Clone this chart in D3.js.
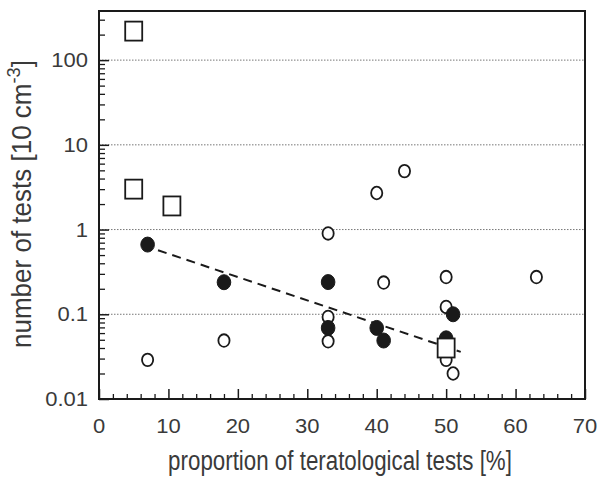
<!DOCTYPE html>
<html><head><meta charset="utf-8">
<script src="https://cdn.jsdelivr.net/npm/d3@7"></script>
<style>body{margin:0;background:#fff}svg{display:block}</style>
</head><body>
<svg id="c" width="599" height="477"></svg>
<script>
// data
const openX = [40, 44, 33, 41, 50, 63, 50, 33, 33, 50, 51, 7, 18];
const openY = [2.7, 4.9, 0.9, 0.237, 0.275, 0.275, 0.122, 0.093, 0.048, 0.029, 0.02, 0.029, 0.049];
const filledX = [7, 18, 33, 33, 40, 41, 51, 50];
const filledY = [0.665, 0.239, 0.24, 0.069, 0.069, 0.049, 0.1, 0.052];
const squareX = [5, 5, 10.5, 50];
const squareY = [220, 3, 1.9, 0.04];
const fitX = [8.5, 52.1];
const fitY = [0.57, 0.036];
const xTicks = [0, 10, 20, 30, 40, 50, 60, 70];
const yTicks = [0.01, 0.1, 1, 10, 100];
const yTickLabels = ["0.01", "0.1", "1", "10", "100"];
const gridVals = [0.1, 1, 10, 100];

const svg = d3.select("#c");
const L = 99, R = 585, T = 11, B = 399;
const x = d3.scaleLinear().domain([0, 70]).range([L, R]);
const y = d3.scaleLog().domain([0.01, 380]).range([B, T]);
const SX = 1.1;
const ink = "#1a1a1a", txt = "#3a3a3a";
const FF = "Liberation Sans, Arial, sans-serif";

// grid
svg.append("g").selectAll("line").data(gridVals).join("line")
  .attr("x1", L).attr("x2", R).attr("y1", d => y(d)).attr("y2", d => y(d))
  .attr("stroke", "#777").attr("stroke-width", 1).attr("stroke-dasharray", "1.5,1.5");

// minor ticks
const xMinor = d3.range(0, 70, 2).filter(v => v % 10 !== 0);
svg.append("g").attr("transform", `translate(0,${B})`)
  .call(d3.axisBottom(x).tickValues(xMinor).tickSize(-5).tickFormat(""))
  .call(g => g.select(".domain").remove())
  .selectAll("line").attr("stroke", ink).attr("stroke-width", 1.3);
svg.append("g").attr("transform", `translate(0,${B})`)
  .call(d3.axisBottom(x).tickValues(xTicks).tickSize(-10).tickFormat(""))
  .call(g => g.select(".domain").remove())
  .selectAll("line").attr("stroke", ink).attr("stroke-width", 1.5);

const yMinor = [];
[0.01, 0.1, 1, 10, 100].forEach(d => { for (let k = 2; k <= 9; k++) { const v = d * k; if (v <= 380) yMinor.push(v); } });
svg.append("g").attr("transform", `translate(${L},0)`)
  .call(d3.axisLeft(y).tickValues(yMinor).tickSize(-6).tickFormat(""))
  .call(g => g.select(".domain").remove())
  .selectAll("line").attr("stroke", ink).attr("stroke-width", 1.3);
svg.append("g").attr("transform", `translate(${L},0)`)
  .call(d3.axisLeft(y).tickValues(yTicks).tickSize(-10).tickFormat(""))
  .call(g => g.select(".domain").remove())
  .selectAll("line").attr("stroke", ink).attr("stroke-width", 1.5);

// frame
svg.append("rect").attr("x", L).attr("y", T).attr("width", R - L).attr("height", B - T)
  .attr("fill", "none").attr("stroke", ink).attr("stroke-width", 2);

// tick labels
svg.append("g").selectAll("text").data(xTicks).join("text")
  .attr("transform", d => `translate(${x(d)},${B + 34}) scale(${SX},1)`)
  .attr("text-anchor", "middle").attr("font-family", FF)
  .attr("font-size", 20).attr("fill", txt).text(d => d);
svg.append("g").selectAll("text").data(yTicks).join("text")
  .attr("transform", d => `translate(${L - 11},${y(d) + 7}) scale(${SX},1)`)
  .attr("text-anchor", "end").attr("font-family", FF)
  .attr("font-size", 20).attr("fill", txt).text((d, i) => yTickLabels[i]);

// axis titles (fitted to the reference lengths)
const xl = svg.append("text").attr("text-anchor", "middle").attr("font-family", FF)
  .attr("font-size", 27).attr("fill", txt).text("proportion of teratological tests [%]");
const xlw = xl.node().getComputedTextLength();
xl.attr("transform", `translate(340,470) scale(${344 / xlw},1)`);

const yl = svg.append("text").attr("text-anchor", "middle").attr("font-family", FF)
  .attr("font-size", 27).attr("fill", txt);
yl.append("tspan").text("number of tests [10 cm");
yl.append("tspan").attr("font-size", 19).attr("dy", -11).text("-3");
yl.append("tspan").attr("dy", 11).text("]");
const ylw = yl.node().getBBox().width;
yl.attr("transform", `translate(31,204) rotate(-90) scale(${288 / ylw},1)`);

// fit line
svg.append("line").attr("x1", x(fitX[0])).attr("y1", y(fitY[0]))
  .attr("x2", x(fitX[1])).attr("y2", y(fitY[1]))
  .attr("stroke", ink).attr("stroke-width", 2).attr("stroke-dasharray", "9,6");

// open circles
svg.append("g").selectAll("ellipse").data(openX).join("ellipse")
  .attr("cx", d => x(d)).attr("cy", (d, i) => y(openY[i]))
  .attr("rx", 5.6).attr("ry", 6.3).attr("fill", "#fff").attr("stroke", ink).attr("stroke-width", 1.8);
// filled circles
svg.append("g").selectAll("ellipse").data(filledX).join("ellipse")
  .attr("cx", d => x(d)).attr("cy", (d, i) => y(filledY[i]))
  .attr("rx", 6.8).attr("ry", 7.5).attr("fill", ink).attr("stroke", ink).attr("stroke-width", 1);
// squares
svg.append("g").selectAll("rect").data(squareX).join("rect")
  .attr("x", d => x(d) - 8.5).attr("y", (d, i) => y(squareY[i]) - 9.5)
  .attr("width", 17).attr("height", 19).attr("fill", "#fff").attr("stroke", ink).attr("stroke-width", 1.8);
</script>
</body></html>
